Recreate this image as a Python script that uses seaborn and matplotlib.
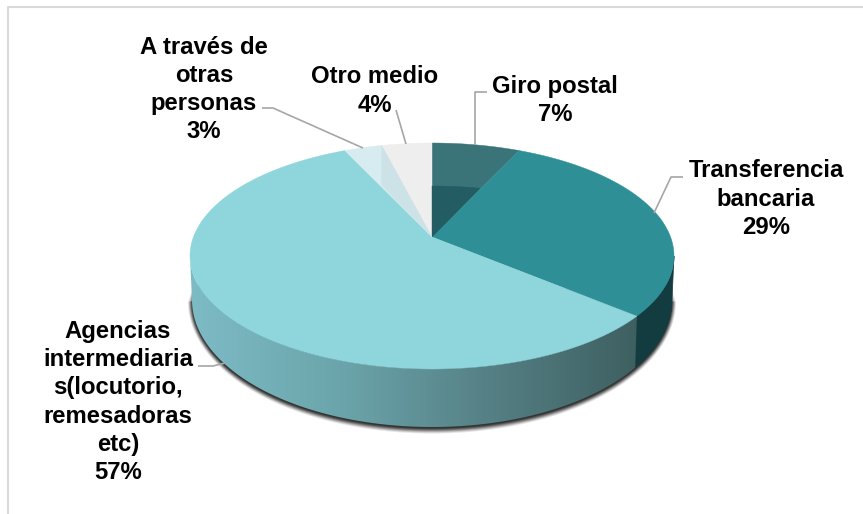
import numpy as np
import matplotlib
matplotlib.use("Agg")
import matplotlib.pyplot as plt
from matplotlib.colors import LinearSegmentedColormap
from matplotlib.patches import Polygon
import seaborn as sns

categories = ["Giro postal", "Transferencia\nbancaria",
              "Agencias\nintermediaria\ns(locutorio,\nremesadoras\netc)",
              "A través de\notras\npersonas", "Otro medio"]
values = [7, 29, 57, 3, 4]
top_colors = ["#3A7378", "#2E8F97", "#8ED6DC", "#D6ECF0", "#EEEEEE"]
wall_colors = ["#235C62", "#133C41"]
wall_gradient = ["#7DBBC5", "#6BA5AB", "#558085", "#3E5F60"]

sns.set_theme(style="white")
plt.rcParams["font.family"] = ["Liberation Sans", "DejaVu Sans"]

W, H = 863, 514
fig = plt.figure(figsize=(W / 100, H / 100), dpi=100, facecolor="white")
ax = fig.add_axes([0, 0, 1, 1])
ax.set_axis_off()

# pie geometry in picture units
CX, CY, RX, RY = 432, 256, 242, 113
APEX_Y = 237
BCY, BRX, BRY = 300, 240, 127


def rim(t):
    """Point on the top rim seen from the apex, for a true angle t (radians from 12 o'clock)."""
    dx, dy = RX * np.sin(t), RY * np.cos(t)
    h = CY - APEX_Y
    a = (dx / RX) ** 2 + (dy / RY) ** 2
    b = 2 * h * dy / RY ** 2
    c = (h / RY) ** 2 - 1
    s = (-b + np.sqrt(b * b - 4 * a * c)) / (2 * a)
    return CX + s * dx, APEX_Y - s * dy


def param(t):
    x, y = rim(t)
    return np.arctan2((x - CX) / RX, (CY - y) / RY)


def ell(p, cy=CY, rx=RX, ry=RY):
    return CX + rx * np.sin(p), cy - ry * np.cos(p)


edges = np.concatenate([[0], np.cumsum(values)]) / sum(values) * 2 * np.pi

# soft shadow under the body
for e, alpha in zip([5, 4, 3, 2, 1, 0], [.06, .09, .13, .18, .25, .35]):
    p = np.linspace(np.pi / 2, 3 * np.pi / 2, 200)
    sx, sy = ell(p, BCY + 1.5, BRX + e * .8, BRY + e)
    ax.fill(np.r_[sx, CX - RX + 4], np.r_[sy, 285], color="#222222", alpha=alpha, lw=0, zorder=1)
    ax.fill(np.r_[sx, CX + RX - 4], np.r_[sy, 285], color="#222222", alpha=alpha, lw=0, zorder=1)

# side wall
p_split = param(edges[2])
p_wall = np.linspace(np.pi / 2, p_split, 80)
tx, ty = ell(p_wall)
bx, by = ell(p_wall, BCY, BRX, BRY)
ax.fill(np.r_[tx, bx[::-1]], np.r_[ty, by[::-1]], color=wall_colors[1], lw=.5, zorder=2)

p_wall = np.linspace(p_split, 3 * np.pi / 2, 200)
tx, ty = ell(p_wall)
bx, by = ell(p_wall, BCY, BRX, BRY)
img = ax.imshow(np.linspace(0, 1, 256)[None, :], extent=[CX - RX, bx[0] + 3, H, 0], aspect="auto",
                cmap=LinearSegmentedColormap.from_list("w", wall_gradient), origin="upper", zorder=2)
clip = Polygon(np.c_[np.r_[tx, bx[::-1]], np.r_[ty, by[::-1]]], closed=True, transform=ax.transData,
               fc="none", ec="none")
ax.add_patch(clip)
img.set_clip_path(clip)

# top surface
for i, col in enumerate(top_colors):
    a0, a1 = param(edges[i]), param(edges[i + 1])
    if a1 < a0:
        a1 += 2 * np.pi
    p = np.linspace(a0, a1, 200)
    x, y = ell(p)
    ax.fill(np.r_[CX, x], np.r_[APEX_Y, y], color=col, lw=.3, zorder=3)

# inner back faces visible in the small far slices
INNER = 43
p = np.linspace(0, param(edges[1]), 60)
x, y = ell(p)
ix, iy = ell(p, CY + INNER)
xend = CX + (x[-1] - CX) * .565
mask = ix <= xend
ax.fill(np.r_[CX, ix[mask]], np.r_[APEX_Y, iy[mask]], color=wall_colors[0], lw=.3, zorder=4)

p3 = param(edges[4])
ex, ey = ell(p3)
ax.fill([ex, ex, CX], [ey, 185, APEX_Y], color="#CDE2E6", lw=.3, zorder=4)

# labels
labels = [f"{c}\n{v}%" for c, v in zip(categories, values)]
label_xy = [(555, 100.5), (766, 199), (118, 402), (204, 89.5), (375, 91)]
for s, (lx, ly) in zip(labels, label_xy):
    ax.text(lx, ly, s, ha="center", va="center", fontsize=17.2, fontweight="bold",
            color="black", linespacing=1.28, zorder=6)

# leader lines
leaders = [
    ([487, 475, 475], [92, 92, 145]),
    ([683, 671, 654], [177, 177, 213]),
    ([198, 213, 225], [366, 366, 363]),
    ([262, 273, 363], [108, 108, 148]),
    ([396, 406], [110, 144]),
]
for lx, ly in leaders:
    ax.plot(lx, ly, color="#A6A6A6", lw=1.2, zorder=5, solid_capstyle="butt")

# chart-area frame: only the top and left edges show
ax.plot([8, 8, W], [H, 7, 7], color="#D9D9D9", lw=1.5, zorder=0)
ax.set_xlim(0, W)
ax.set_ylim(H, 0)
fig.savefig("out.png", dpi=100)
